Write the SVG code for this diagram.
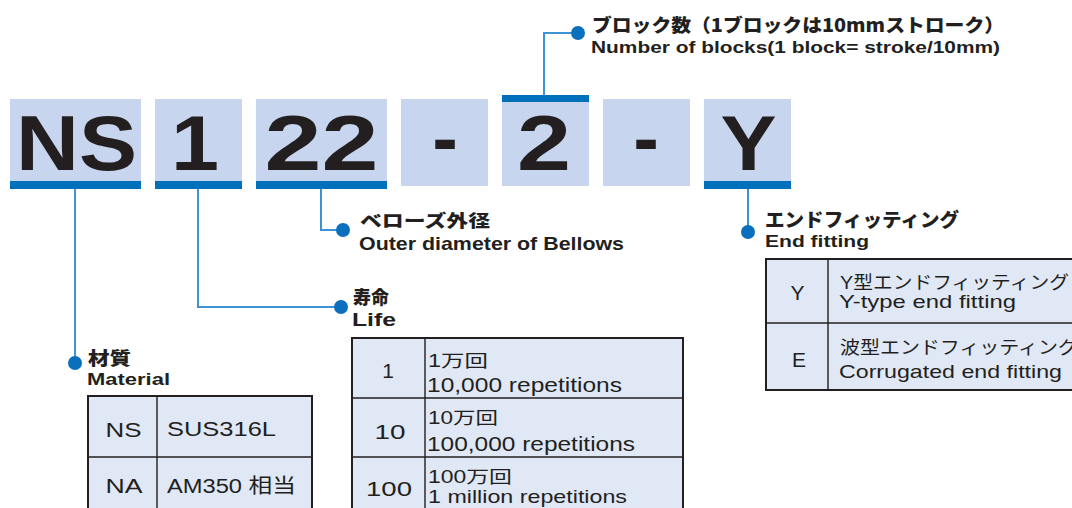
<svg xmlns="http://www.w3.org/2000/svg" width="1072" height="508" viewBox="0 0 1072 508">
<style>
.box{fill:#c7d5ee}
.bar{fill:#0070bb}
.big{font-family:"Liberation Sans",Arial,sans-serif;font-weight:bold;font-size:77px;fill:#231f20;text-anchor:middle}
.conn{fill:none;stroke:#3d93d4;stroke-width:2}
.dot{fill:#0a6fbd}
.jh{font-family:"Noto Sans CJK JP",sans-serif;font-weight:900;fill:#231f20}
.eh{font-family:"Liberation Sans",Arial,sans-serif;font-weight:bold;fill:#231f20}
.cell{fill:#e0e8f5;stroke:#231f20;stroke-width:2}
.grid{stroke:#231f20;stroke-width:1.4;fill:none}
.t{font-family:"Liberation Sans","Noto Sans CJK JP",sans-serif;fill:#231f20}
.code{font-size:21px;text-anchor:middle}
</style>
<rect width="1072" height="508" fill="#ffffff"/>

<g id="part-NS">
<rect class="box" x="10" y="99" width="131" height="82"/>
<rect class="bar" x="10" y="181" width="131" height="8"/>
<text class="big" x="76.5" y="170" textLength="121" lengthAdjust="spacingAndGlyphs">NS</text>
</g>
<g id="part-1">
<rect class="box" x="155" y="99" width="87" height="82"/>
<rect class="bar" x="155" y="181" width="87" height="8"/>
<text class="big" x="195" y="170" textLength="48" lengthAdjust="spacingAndGlyphs">1</text>
</g>
<g id="part-22">
<rect class="box" x="256" y="99" width="131" height="82"/>
<rect class="bar" x="256" y="181" width="131" height="8"/>
<text class="big" x="321.5" y="170" textLength="114" lengthAdjust="spacingAndGlyphs">22</text>
</g>
<g id="dash-1">
<rect class="box" x="401" y="99" width="87" height="87"/>
<text class="big" x="445" y="165">-</text>
</g>
<g id="part-2">
<rect class="bar" x="502" y="95" width="87" height="7"/>
<rect class="box" x="502" y="102" width="87" height="84"/>
<text class="big" x="544" y="170" textLength="54" lengthAdjust="spacingAndGlyphs">2</text>
</g>
<g id="dash-2">
<rect class="box" x="603" y="99" width="87" height="87"/>
<text class="big" x="646" y="165">-</text>
</g>
<g id="part-Y">
<rect class="box" x="704" y="99" width="87" height="82"/>
<rect class="bar" x="704" y="181" width="87" height="8"/>
<text class="big" x="748.5" y="170" textLength="56" lengthAdjust="spacingAndGlyphs">Y</text>
</g>

<g id="connectors">
<path class="conn" d="M544 95 V33 H578"/>
<path class="conn" d="M321 189 V230 H343"/>
<path class="conn" d="M198 189 V307 H341"/>
<path class="conn" d="M75 189 V363"/>
<path class="conn" d="M748 189 V232"/>
<circle class="dot" cx="578" cy="33" r="7"/>
<circle class="dot" cx="343" cy="230" r="7"/>
<circle class="dot" cx="341" cy="307" r="7"/>
<circle class="dot" cx="75" cy="363" r="7"/>
<circle class="dot" cx="748" cy="232" r="7"/>
</g>

<g id="label-blocks">
<text class="jh" x="592" y="31.5" font-size="18.5" textLength="412" lengthAdjust="spacingAndGlyphs">ブロック数（1ブロックは10mmストローク）</text>
<text class="eh" x="591" y="53.3" font-size="16.3" textLength="409" lengthAdjust="spacingAndGlyphs">Number of blocks(1 block= stroke/10mm)</text>
</g>

<g id="label-diameter">
<text class="jh" x="360" y="226.5" font-size="17.5" textLength="130" lengthAdjust="spacingAndGlyphs">ベローズ外径</text>
<text class="eh" x="359" y="250" font-size="18.5" textLength="265" lengthAdjust="spacingAndGlyphs">Outer diameter of Bellows</text>
</g>

<g id="label-life">
<text class="jh" x="353" y="303.5" font-size="18.5" textLength="36" lengthAdjust="spacingAndGlyphs">寿命</text>
<text class="eh" x="352" y="325.7" font-size="19" textLength="44" lengthAdjust="spacingAndGlyphs">Life</text>
<rect class="cell" x="352" y="338" width="331" height="190"/>
<path class="grid" d="M425 338 V528 M352 398 H683 M352 457 H683"/>
<text class="t code" x="388" y="378">1</text>
<text class="t code" x="390" y="438.5" textLength="31" lengthAdjust="spacingAndGlyphs">10</text>
<text class="t code" x="389" y="496" textLength="46" lengthAdjust="spacingAndGlyphs">100</text>
<text class="t" x="428" y="367" font-size="17.5" textLength="60" lengthAdjust="spacingAndGlyphs">1万回</text>
<text class="t" x="427" y="391.7" font-size="19.5" textLength="195" lengthAdjust="spacingAndGlyphs">10,000 repetitions</text>
<text class="t" x="428" y="423.5" font-size="17.5" textLength="70" lengthAdjust="spacingAndGlyphs">10万回</text>
<text class="t" x="427" y="450.7" font-size="19.5" textLength="208" lengthAdjust="spacingAndGlyphs">100,000 repetitions</text>
<text class="t" x="428" y="482.5" font-size="17.5" textLength="84" lengthAdjust="spacingAndGlyphs">100万回</text>
<text class="t" x="428" y="503" font-size="19" textLength="199" lengthAdjust="spacingAndGlyphs">1 million repetitions</text>
</g>

<g id="label-material">
<text class="jh" x="88" y="364.7" font-size="18.5" textLength="43" lengthAdjust="spacingAndGlyphs">材質</text>
<text class="eh" x="87" y="385" font-size="17.2" textLength="83" lengthAdjust="spacingAndGlyphs">Material</text>
<rect class="cell" x="88" y="396" width="224" height="130"/>
<path class="grid" d="M157 396 V526 M88 457 H312"/>
<text class="t code" x="123.5" y="436.5" textLength="36" lengthAdjust="spacingAndGlyphs">NS</text>
<text class="t code" x="124" y="493" textLength="37" lengthAdjust="spacingAndGlyphs">NA</text>
<text class="t" x="167" y="436" font-size="20" textLength="109" lengthAdjust="spacingAndGlyphs">SUS316L</text>
<text class="t" x="167" y="492.7" font-size="20" textLength="129" lengthAdjust="spacingAndGlyphs">AM350 相当</text>
</g>

<g id="label-end">
<text class="jh" x="765" y="227" font-size="19" textLength="194" lengthAdjust="spacingAndGlyphs">エンドフィッティング</text>
<text class="eh" x="765" y="247" font-size="16.5" textLength="104" lengthAdjust="spacingAndGlyphs">End fitting</text>
<rect class="cell" x="766" y="259" width="320" height="131"/>
<path class="grid" d="M828 259 V390 M766 323 H1086"/>
<text class="t code" x="797.5" y="300" font-size="22">Y</text>
<text class="t code" x="799" y="367" font-size="22">E</text>
<text class="t" x="840" y="289" font-size="18" textLength="229" lengthAdjust="spacingAndGlyphs">Y型エンドフィッティング</text>
<text class="t" x="839" y="307.7" font-size="17.7" textLength="177" lengthAdjust="spacingAndGlyphs">Y-type end fitting</text>
<text class="t" x="840" y="354" font-size="18" textLength="238" lengthAdjust="spacingAndGlyphs">波型エンドフィッティング</text>
<text class="t" x="839" y="378.3" font-size="17.7" textLength="223" lengthAdjust="spacingAndGlyphs">Corrugated end fitting</text>
</g>
</svg>
